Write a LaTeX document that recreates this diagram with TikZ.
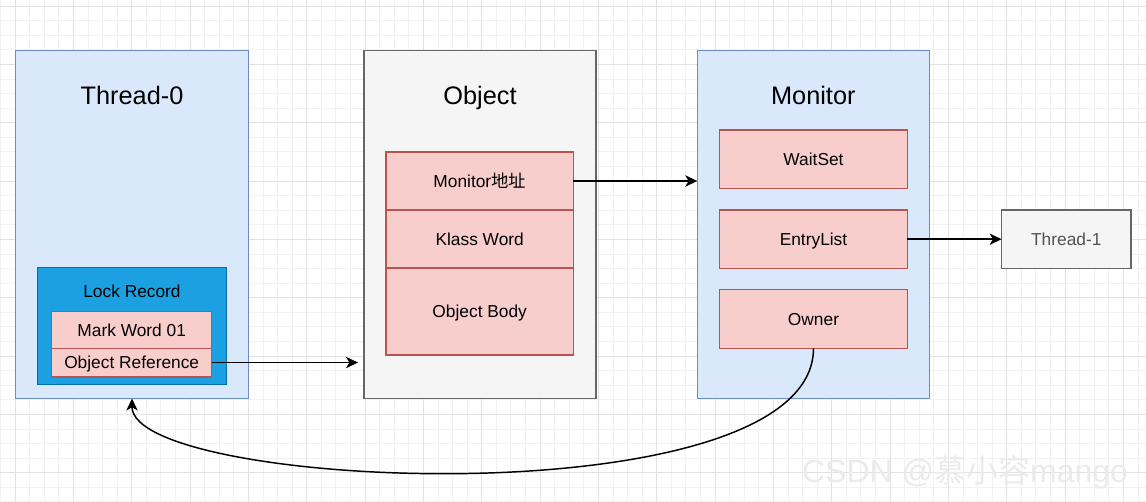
\documentclass[tikz,border=0pt]{standalone}
\usepackage{fontspec}
\setmainfont{Liberation Sans}
\newfontfamily\cjk{Noto Sans CJK SC}
\usetikzlibrary{positioning,arrows.meta}

\definecolor{threadFill}{HTML}{DAE8FC}
\definecolor{threadLine}{HTML}{6C8EBF}
\definecolor{objFill}{HTML}{F5F5F5}
\definecolor{objLine}{HTML}{666666}
\definecolor{cellFill}{HTML}{F8CECC}
\definecolor{cellLine}{HTML}{B85450}
\definecolor{lockFill}{HTML}{1BA1E2}
\definecolor{lockLine}{HTML}{006EAF}
\definecolor{gridMinor}{HTML}{F1F1F1}
\definecolor{gridMajor}{HTML}{E2E2E2}

% sizes in pt (1px of the drawing = 0.75pt)
\tikzset{
    box/.style={draw, line width=1.1pt, outer sep=0pt, inner sep=0pt},
    bluebox/.style={box, fill=threadFill, draw=threadLine,
        minimum width=174.75pt, minimum height=261pt},
    graybox/.style={box, fill=objFill, draw=objLine},
    cell/.style={box, fill=cellFill, draw=cellLine,
        font=\fontsize{13}{15}\selectfont, text height=9.4pt, text depth=0pt},
    title/.style={font=\fontsize{19}{22}\selectfont, anchor=base},
    conn/.style={line width=1.1pt,
        -{Stealth[length=9pt, width=8.5pt, inset=2.5pt]}},
}

\begin{document}
\begin{tikzpicture}[x=0.75pt, y=-0.75pt]

    \useasboundingbox (0,0) rectangle (1146,502);

    %% Grid
    \fill[white] (0,0) rectangle (1146,502);
    \foreach \i in {-1,...,77}
        \draw[gridMinor, line width=0.6pt] ({15+14.5833*\i},0) -- ({15+14.5833*\i},502);
    \foreach \j in {0,...,34}
        \draw[gridMinor, line width=0.6pt] (0,{6+14.5833*\j}) -- (1146,{6+14.5833*\j});
    \foreach \i in {0,...,19}
        \draw[gridMajor, line width=0.6pt] ({15+58.333*\i},0) -- ({15+58.333*\i},502);
    \foreach \j in {0,...,8}
        \draw[gridMajor, line width=0.6pt] (0,{6+58.333*\j}) -- (1146,{6+58.333*\j});

    %% Thread-0
    \node[bluebox] (t0) at (132,224.5) {};
    \node[title] (t0lbl) at (132,104.3) {Thread-0};
    \node[box, fill=lockFill, draw=lockLine,
        minimum width=141.75pt, minimum height=87.75pt] (lockrec) at (132,325.8) {};
    \node[font=\fontsize{13}{15}\selectfont] (lockrecLbl) at (132,291.7) {Lock Record};
    \node[cell, minimum width=120pt, minimum height=27.4pt] (mword) at (131.7,330) {Mark Word 01};
    \node[cell, minimum width=120pt, minimum height=21.4pt, below=0pt of mword] (oref) {Object Reference};

    %% Object
    \node[graybox, minimum width=174pt, minimum height=261pt] (obj) at (480,224.5) {};
    \node[title] (objlbl) at (480,104.3) {Object};
    \node[cell, minimum width=140.5pt, minimum height=43.5pt] (maddr) at (479.7,181) {Monitor{\cjk 地址}};
    \node[cell, minimum width=140.5pt, minimum height=43.5pt, below=0pt of maddr] (kword) {Klass Word};
    \node[cell, minimum width=140.5pt, minimum height=65.25pt, below=0pt of kword] (obody) {Object Body};

    %% Monitor
    \node[bluebox, minimum width=174pt] (mon) at (813.3,224.5) {};
    \node[title] (monlbl) at (813.3,104.3) {Monitor};
    \node[cell, minimum width=140.7pt, minimum height=43.9pt] (waitset) at (813.5,159.3) {WaitSet};
    \node[cell, minimum width=140.7pt, minimum height=43.9pt] (entry) at (813.5,239.2) {EntryList};
    \node[cell, minimum width=140.7pt, minimum height=43.9pt] (owner) at (813.5,319) {Owner};

    %% Thread-1
    \node[graybox, minimum width=97pt, minimum height=43.7pt, text=objLine!80!black,
        font=\fontsize{13}{15}\selectfont] (t1) at (1066.3,239.2) {Thread-1};

    %% Connectors
    \coordinate (objin) at ([xshift=-4.5pt]oref.east -| obj.west);
    \draw[conn] (oref.east) -- (objin);
    \draw[conn] (maddr.east) -- (maddr.east -| mon.west);
    \draw[conn] (entry.east) -- (t1.west);
    \draw[conn] (owner.south) .. controls +(0,172) and +(0,92) .. (t0.south);

    %% Watermark
    \node[text=black!8, font=\fontsize{24}{28}\selectfont] (wmark) at (965,472)
        {CSDN @{\cjk 慕小容}mango};

\end{tikzpicture}
\end{document}
